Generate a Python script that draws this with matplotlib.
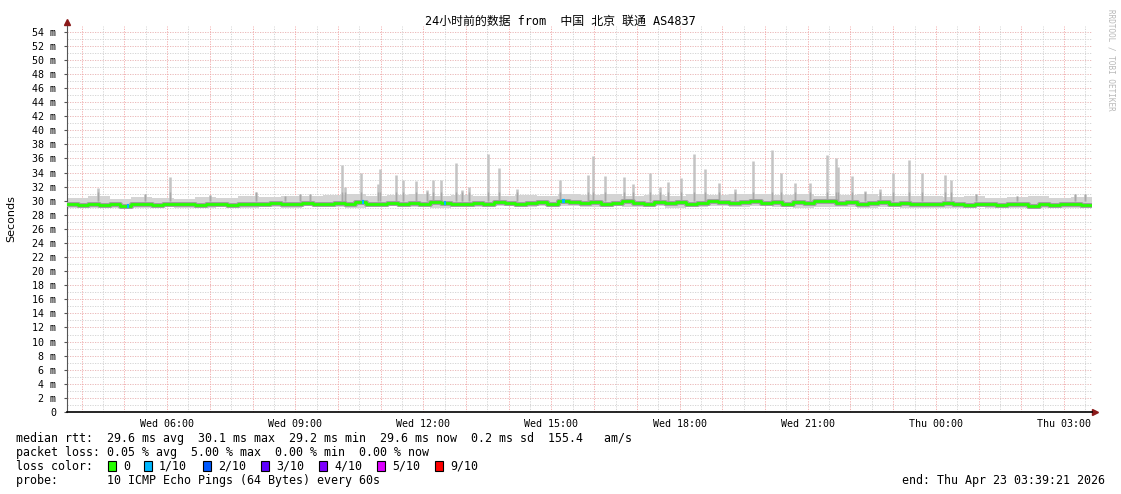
import datetime as dt
import matplotlib
matplotlib.use("Agg")
import matplotlib.pyplot as plt
from matplotlib.patches import Rectangle

start = dt.datetime(2026, 4, 22, 3, 39, 21)
end = dt.datetime(2026, 4, 23, 3, 39, 21)

# median rtt in ms, one value per 15 minutes
median_rtt = [
    29.5, 29.4, 29.6, 29.4, 29.5, 29.3, 29.5, 29.6, 29.4, 29.5, 29.6, 29.5, 29.4, 29.5, 29.5, 29.4,
    29.5, 29.6, 29.5, 29.7, 29.6, 29.5, 29.7, 29.6, 29.5, 29.7, 29.6, 29.8, 29.6, 29.5, 29.7, 29.6,
    29.7, 29.6, 29.8, 29.7, 29.6, 29.5, 29.7, 29.6, 29.8, 29.7, 29.6, 29.7, 29.8, 29.6, 29.9, 29.8,
    29.7, 29.8, 29.6, 29.7, 29.9, 29.7, 29.6, 29.8, 29.7, 29.8, 29.6, 29.7, 29.9, 29.8, 29.7, 29.8,
    29.9, 29.7, 29.8, 29.6, 29.8, 29.7, 29.9, 30.0, 29.7, 29.8, 29.6, 29.7, 29.8, 29.6, 29.7, 29.5,
    29.6, 29.5, 29.7, 29.5, 29.4, 29.6, 29.5, 29.4, 29.6, 29.5, 29.3, 29.5, 29.4, 29.6, 29.5, 29.4,
]

# smoke band edges, one value per 30 minutes
smoke_hi = [
    30.4, 30.6, 30.3, 30.5, 30.4, 30.3, 30.5, 30.4, 30.6, 30.5, 30.7, 30.6,
    30.8, 30.9, 30.7, 30.8, 30.9, 30.6, 30.8, 30.7, 30.6, 30.8, 30.7, 30.9,
    30.8, 30.9, 30.7, 30.8, 30.7, 30.9, 30.8, 31.0, 30.9, 30.8, 30.9, 30.7,
    30.8, 30.9, 30.7, 30.6, 30.7, 30.5, 30.6, 30.4, 30.5, 30.6, 30.4, 30.5,
]
smoke_lo = [
    28.9, 29.0, 28.9, 29.0, 29.1, 28.9, 29.0, 29.1, 29.0, 29.1, 29.0, 29.2,
    29.1, 29.0, 29.1, 29.2, 29.1, 29.0, 29.2, 29.1, 29.2, 29.1, 29.2, 29.3,
    29.1, 29.2, 29.1, 29.2, 29.0, 29.1, 29.2, 29.1, 29.2, 29.1, 29.0, 29.1,
    29.1, 29.0, 29.1, 29.0, 28.9, 29.0, 29.1, 28.9, 29.0, 28.9, 29.0, 28.9,
]

# single slow pings (hours after start, ms)
spike_hours = [0.73, 1.83, 2.41, 3.35, 4.43, 5.10, 5.46, 5.70, 6.44, 6.51, 6.89, 7.28,
               7.33, 7.70, 7.87, 8.17, 8.43, 8.57, 8.76, 9.11, 9.25, 9.41, 9.86, 10.12,
               10.54, 11.55, 12.20, 12.32, 12.60, 13.04, 13.26, 13.65, 13.89, 14.07, 14.38,
               14.68, 14.94, 15.27, 15.64, 16.07, 16.51, 16.72, 17.05, 17.40, 17.80, 18.01,
               18.06, 18.38, 18.69, 19.04, 19.34, 19.72, 20.02, 20.56, 20.70, 21.29, 22.25,
               23.61, 23.84]
spike_tops = [31.8, 31.0, 33.3, 30.8, 31.2, 30.7, 30.9, 31.0, 35.0, 32.0, 34.0, 32.4,
              34.5, 33.7, 33.0, 32.8, 31.5, 33.0, 33.0, 35.4, 31.5, 32.0, 36.6, 34.6,
              31.7, 33.0, 33.7, 36.4, 33.5, 33.3, 32.4, 34.0, 32.0, 32.6, 33.2,
              36.6, 34.5, 32.5, 31.6, 35.6, 37.2, 34.0, 32.5, 32.5, 36.5, 36.0,
              34.8, 33.5, 31.4, 31.7, 34.0, 35.8, 34.0, 33.7, 33.0, 31.0, 30.6,
              31.0, 31.0]

# samples with 1/10 loss
loss_hours = [1.43, 6.93, 8.85, 11.62]

loss_names = ["0", "1/10", "2/10", "3/10", "4/10", "5/10", "9/10"]
loss_colors = ["#26ff00", "#00b8ff", "#0059ff", "#5e00ff", "#7e00ff", "#dd00ff", "#ff0000"]

mono = "DejaVu Sans Mono"
W, H = 1121, 494
dots = (0, (1.5, 1.5))

fig = plt.figure(figsize=(W / 100, H / 100), dpi=100)
ax = fig.add_axes([67 / W, 82 / H, 1025 / W, 386 / H])
ax.set_xlim(start, end)
ax.set_ylim(0, 54.8)

# grid
for v in range(1, 55):
    c = "#e8b0b0" if v % 2 == 0 else "#d0d0d0"
    ax.axhline(v, color=c, lw=0.6, ls=dots, zorder=0)
t = dt.datetime(2026, 4, 22, 4, 0)
while t < end:
    ax.axvline(t, color="#f2a4a4", lw=0.6, ls=dots, zorder=0)
    h = t + dt.timedelta(minutes=30)
    if h < end:
        ax.axvline(h, color="#d0d0d0", lw=0.6, ls=dots, zorder=0)
    t += dt.timedelta(hours=1)

# smoke
smoke_t = [start + dt.timedelta(minutes=30 * i) for i in range(len(smoke_hi) + 1)]
ax.fill_between(smoke_t, smoke_lo + [smoke_lo[-1]], smoke_hi + [smoke_hi[-1]],
                step="post", color="#d4d4d4", lw=0, zorder=1)
spike_t = [start + dt.timedelta(hours=h) for h in spike_hours]
ax.vlines(spike_t, 30.0, spike_tops, color="#c4c4c4", lw=1.8, zorder=2)
ax.vlines(spike_t, 30.0, [min(v, 31.2) for v in spike_tops], color="#a8a8a8", lw=1.0, zorder=2)

med_t = [start + dt.timedelta(minutes=15 * i) for i in range(len(median_rtt) + 1)]
med_v = median_rtt + [median_rtt[-1]]
ax.step(med_t, med_v, where="post", color="#a0a0a0", lw=3.6, zorder=3)
ax.step(med_t, med_v, where="post", color=loss_colors[0], lw=2.0, zorder=4)
for h in loss_hours:
    i = int(h * 4)
    ax.plot([start + dt.timedelta(hours=h - 0.03), start + dt.timedelta(hours=h + 0.03)],
            [median_rtt[i], median_rtt[i]], color=loss_colors[1], lw=3, zorder=5,
            solid_capstyle="butt")

# axes
for s in ["top", "right"]:
    ax.spines[s].set_visible(False)
ax.spines["left"].set_color("#555555")
ax.spines["bottom"].set_color("black")
ax.spines["bottom"].set_linewidth(1.2)
ax.plot([0], [1.01], marker="^", color="#8b1a1a", ms=4, transform=ax.transAxes, clip_on=False)
ax.plot([1.003], [0], marker=">", color="#8b1a1a", ms=4, transform=ax.transAxes, clip_on=False)

yt = list(range(0, 55, 2))
ax.set_yticks(yt)
ax.set_yticklabels(["0" if v == 0 else f"{v} m" for v in yt], fontfamily=mono, fontsize=7.2)
ax.tick_params(axis="y", length=2, pad=6, color="#555555")

xt = [dt.datetime(2026, 4, 22, h) for h in (6, 9, 12, 15, 18, 21)] + \
     [dt.datetime(2026, 4, 23, h) for h in (0, 3)]
ax.set_xticks(xt)
ax.set_xticklabels([d.strftime("%a %H:%M") for d in xt], fontfamily=mono, fontsize=7.2)
ax.tick_params(axis="x", length=0, pad=5)

# texts
fig.text(560 / W, 1 - 21 / H, "24小时前的数据 from  中国 北京 联通 AS4837",
         family=[mono, "Noto Sans CJK SC"], fontsize=8.6, ha="center", va="center")
fig.text(11 / W, 1 - 219 / H, "Seconds", rotation=90, fontsize=8, ha="center", va="center")
fig.text(1111 / W, 1 - 60 / H, "RRDTOOL / TOBI OETIKER", rotation=270, family=mono,
         fontsize=5.5, color="#b8b8b8", ha="center", va="center")

rows = [
    "median rtt:  29.6 ms avg  30.1 ms max  29.2 ms min  29.6 ms now  0.2 ms sd  155.4   am/s",
    "packet loss: 0.05 % avg  5.00 % max  0.00 % min  0.00 % now",
    "loss color:",
    "probe:       10 ICMP Echo Pings (64 Bytes) every 60s",
]
for k, row in enumerate(rows):
    fig.text(16 / W, 1 - (438 + 14 * k) / H, row, family=mono, fontsize=8.4, va="center")

sq_x = [108, 144, 203, 261, 319, 377, 435]
for x0, name, c in zip(sq_x, loss_names, loss_colors):
    fig.patches.append(Rectangle((x0 / W, 1 - 471 / H), 8 / W, 10 / H, facecolor=c,
                                 edgecolor="black", lw=0.8, transform=fig.transFigure))
    fig.text((x0 + 15) / W, 1 - 466 / H, name, family=mono, fontsize=8.4, va="center")

fig.text(1105 / W, 1 - 480 / H, "end: Thu Apr 23 03:39:21 2026", family=mono,
         fontsize=8.4, ha="right", va="center")

fig.savefig("out.png", dpi=100)
